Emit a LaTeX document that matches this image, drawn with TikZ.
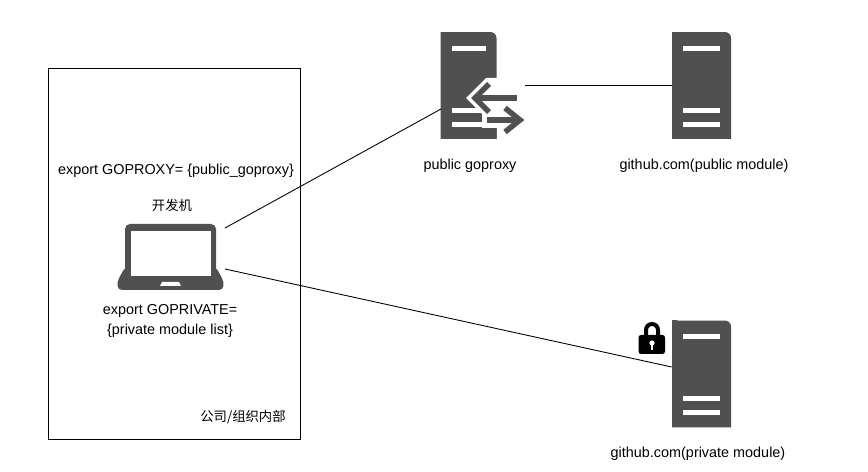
\documentclass[tikz,border=0pt]{standalone}
\usepackage{fontspec}
\setmainfont{Liberation Sans}
\newfontfamily\cjk{Noto Sans CJK SC}
\usetikzlibrary{positioning, calc}

\definecolor{srvgray}{HTML}{505050}

\tikzset{
    label text/.style={font=\fontsize{8.2}{11.4}\selectfont, align=center, inner sep=0pt},
    cjk text/.style={font=\fontsize{7.6}{10}\selectfont\cjk, align=center, inner sep=0pt},
    link/.style={draw=black, line width=0.5pt},
    server/.style={minimum width=1.18cm, minimum height=2.14cm, inner sep=0pt,
        path picture={
            \fill[srvgray, rounded corners=0.12cm] (path picture bounding box.south west)
                [sharp corners] -- (path picture bounding box.north west)
                [rounded corners=0.12cm] -- (path picture bounding box.north west)
                -- (path picture bounding box.north east)
                [sharp corners] -- (path picture bounding box.south east) -- cycle;
            \fill[srvgray] ($(path picture bounding box.south west)+(0cm,0.3cm)$) rectangle (path picture bounding box.south east);
            \fill[white] ($(path picture bounding box.north west)+(0.22cm,-0.27cm)$) rectangle ($(path picture bounding box.north east)+(-0.22cm,-0.37cm)$);
            \fill[white] ($(path picture bounding box.south west)+(0.22cm,0.62cm)$) rectangle ($(path picture bounding box.south east)+(-0.22cm,0.52cm)$);
            \fill[white] ($(path picture bounding box.south west)+(0.22cm,0.34cm)$) rectangle ($(path picture bounding box.south east)+(-0.22cm,0.24cm)$);
        }},
}

\begin{document}
\begin{tikzpicture}[x=0.02cm, y=-0.02cm]
\useasboundingbox (0,0) rectangle (868,472);

% Company side
\node[draw=black, line width=0.5pt, minimum width=5.04cm, minimum height=7.42cm, inner sep=0pt] (office) at (174,253.5) {};
\node[label text] (proxyEnv) at (176,170.5) {export GOPROXY= \{public\_goproxy\}};
\node[cjk text] (devName) at (172,205.5) {开发机};
\node[label text] (privateEnv) at (170,321) {export GOPRIVATE=\\\{private module list\}};
\node[cjk text] (officeName) at (243,417) {公司/组织内部};

% Laptop
\fill[srvgray, rounded corners=0.1cm] (125,280) -- (125,224) -- (216,224) -- (216,280) -- cycle;
\fill[srvgray, rounded corners=0.08cm] (125,267) -- (117,282) -- (118,290) -- (223,290) -- (224,282) -- (216,267) -- cycle;
\fill[white] (131,231) rectangle (210.5,276);
\fill[white] (162,282) -- (179,282) -- (181,286) -- (160,286) -- cycle;
\coordinate (laptopTop) at (225,228);
\coordinate (laptopBottom) at (225,269);

% Servers
\node[server, minimum width=1.12cm] (proxyBox) at (468.5,85.5) {};
\node[server] (publicBox) at (701.5,85.5) {};
\node[server] (privateBox) at (701.5,374) {};

% Proxy arrows
\fill[white] (497,78) -- (486,78) -- (466,98) -- (482,114) -- (497,114) -- cycle;
\fill[white] (482,108) rectangle (497,128);
\draw[white, line width=0.2cm, miter limit=10] (489,84) -- (475,98) -- (489,112);
\draw[white, line width=0.2cm] (478,98) -- (517,98);
\draw[white, line width=0.2cm] (487,120) -- (518,120);
\draw[white, line width=0.2cm, miter limit=10] (505,108) -- (520,120) -- (505,132);
\draw[srvgray, line width=0.11cm, miter limit=10] (489,84) -- (475,98) -- (489,112);
\draw[srvgray, line width=0.12cm] (478,98) -- (517,98);
\draw[srvgray, line width=0.12cm] (487,120) -- (518,120);
\draw[srvgray, line width=0.11cm, miter limit=10] (505,108) -- (520,120) -- (505,132);
\coordinate (proxyIn) at (441,109);
\coordinate (proxyOut) at (525,85);

% Lock
\draw[black, line width=0.08cm] (646,337) -- (646,330) arc (180:360:6 and 6) -- (658,337);
\fill[black, rounded corners=0.05cm] (638.5,335) rectangle (665,354);
\fill[white] (652,343) circle (2.6);
\fill[white] (650.8,343) rectangle (653.2,350);

% Server names
\node[label text] (proxyName) at (470,166) {public goproxy};
\node[label text] (publicName) at (704,166) {github.com(public module)};
\node[label text] (privateName) at (698,454) {github.com(private module)};

% Links
\draw[link] (laptopTop) -- (proxyIn);
\draw[link] (proxyOut) -- (publicBox.west |- proxyOut);
\draw[link] (laptopBottom) -- (privateBox.west |- 0,367);
\end{tikzpicture}
\end{document}
